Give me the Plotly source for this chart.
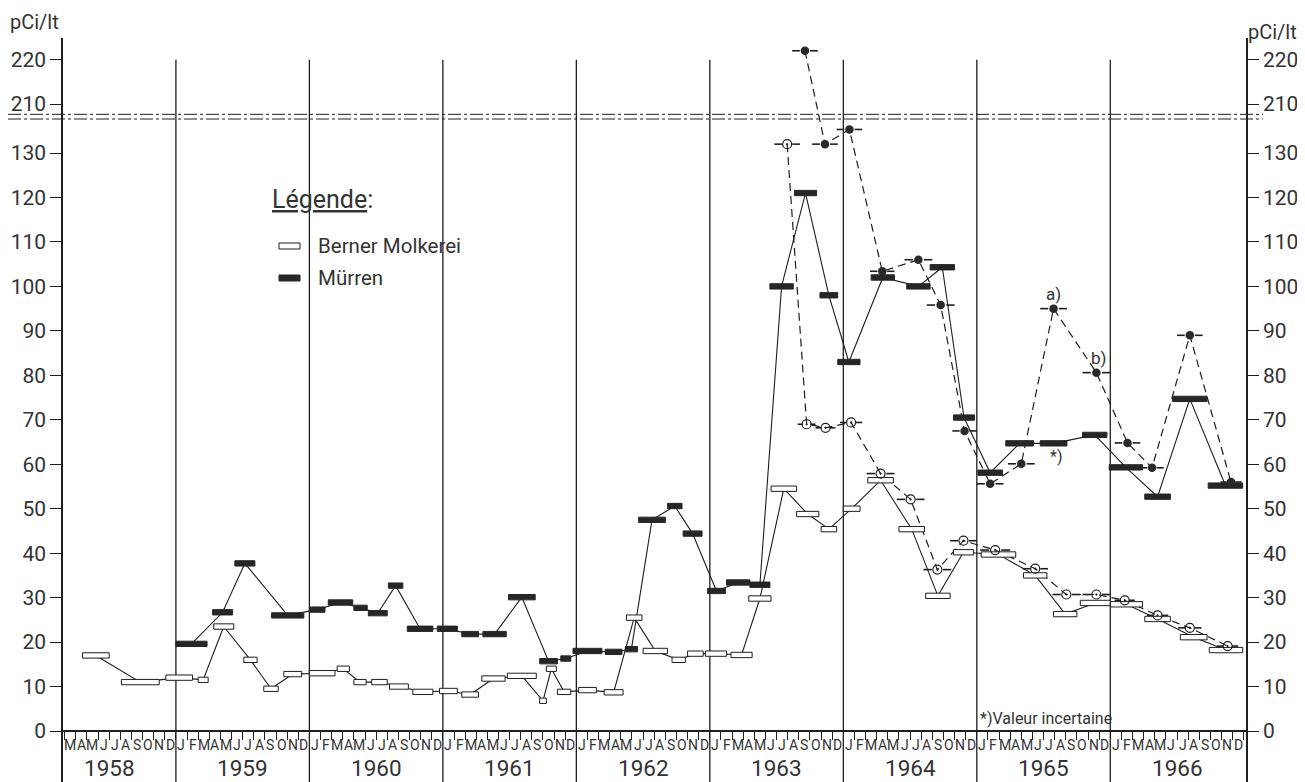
import plotly.graph_objects as go

# ---------------- data (month index: Jan 1958 = 0) ----------------
berner_start = [3.6, 7.1, 11.1, 14.0, 15.4, 18.1, 19.9, 21.7, 24.0, 26.5, 28.0, 29.6, 31.2, 33.3, 35.7,
                37.7, 39.5, 41.8, 44.7, 45.3, 46.3, 48.2, 50.5, 52.5, 54.0, 56.6, 58.0, 59.6, 61.9, 63.5,
                65.5, 67.8, 70.0, 72.0, 74.2, 77.0, 79.4, 81.9, 84.4, 88.2, 90.9, 93.3, 96.0, 99.1, 102.3, 104.9]
berner_end = [6.0, 10.5, 13.5, 14.9, 17.2, 19.3, 21.2, 23.3, 26.3, 27.6, 29.1, 31.0, 32.9, 35.1, 37.3,
              39.2, 41.6, 44.4, 45.3, 46.2, 47.5, 49.8, 52.2, 53.9, 56.2, 57.8, 59.4, 61.5, 63.8, 65.5,
              67.8, 69.8, 71.4, 73.5, 76.5, 79.3, 81.6, 83.7, 87.5, 90.3, 93.0, 96.0, 98.9, 101.4, 104.7, 107.9]
berner_val = [17, 11, 12, 11.5, 23.5, 16, 9.5, 12.8, 13, 14, 11, 11, 10, 8.8, 9,
              8.2, 11.8, 12.4, 6.8, 14, 8.8, 9.2, 8.7, 25.5, 18, 16, 17.4, 17.4, 17.1, 29.8,
              54.5, 48.8, 45.4, 50, 56.4, 45.4, 30.4, 40.2, 39.7, 35, 26.3, 28.8, 28.5, 25.2, 21.1, 18.2]

murren_start = [12.0, 15.3, 17.3, 20.6, 24.0, 25.7, 28.0, 29.3, 31.1, 32.8, 35.5, 37.7, 39.6, 41.9, 44.7,
                46.6, 47.7, 50.6, 52.4, 53.6, 56.2, 57.6, 59.8, 61.5, 63.6, 65.4, 67.6, 69.9, 71.5, 74.5,
                77.7, 79.8, 81.9, 84.1, 86.6, 89.7, 93.5, 95.9, 99.1, 101.6, 104.8]
murren_end = [14.8, 17.1, 19.1, 23.5, 25.4, 27.9, 29.2, 31.0, 32.4, 35.1, 37.3, 39.2, 41.7, 44.3, 46.3,
              47.5, 50.3, 52.1, 53.5, 56.0, 57.5, 59.3, 61.4, 63.6, 65.4, 67.5, 69.6, 71.5, 73.5, 76.6,
              79.8, 82.0, 83.8, 86.3, 89.1, 92.1, 95.7, 98.9, 101.4, 104.7, 107.9]
murren_val = [19.6, 26.7, 37.7, 26, 27.3, 28.9, 27.7, 26.5, 32.7, 23, 23, 21.8, 21.8, 30.1, 15.7,
              16.3, 18, 17.8, 18.4, 47.5, 50.6, 44.4, 31.5, 33.4, 32.9, 100, 121, 98, 83, 102,
              100, 104.3, 70.5, 58.1, 64.7, 64.7, 66.6, 59.3, 52.7, 74.7, 55.2]

# dashed series with open dotted circles
circ_start = [65.8, 67.9, 69.5, 71.7, 74.1, 76.8, 79.2, 81.6, 84.3, 88.1, 90.8, 93.5, 96.4, 99.3, 102.1, 105.6]
circ_end = [68.1, 69.5, 71.3, 73.7, 76.6, 79.3, 81.7, 84.0, 87.0, 90.4, 93.3, 96.0, 98.2, 101.2, 104.2, 107.5]
circ_val = [132, 69, 68.2, 69.4, 57.9, 52.1, 36.3, 42.8, 40.7, 36.5, 30.7, 30.7, 29.4, 26, 23.2, 19.1]

# dashed series with filled dots
dot_start = [67.4, 69.2, 71.4, 74.4, 77.5, 79.5, 81.8, 84.0, 86.8, 89.7, 93.5, 96.4, 98.7, 102.0, 105.9]
dot_end = [69.7, 71.5, 73.7, 76.6, 80.0, 82.0, 84.0, 86.4, 89.2, 92.1, 96.0, 98.7, 100.8, 104.3, 107.8]
dot_val = [222, 132, 135.3, 103.4, 106, 95.8, 67.5, 55.6, 60.1, 95, 80.6, 64.8, 59.2, 89, 56]

years = [1958, 1959, 1960, 1961, 1962, 1963, 1964, 1965, 1966]
month_letters = ["J", "F", "M", "A", "M", "J", "J", "A", "S", "O", "N", "D"]
first_month = 2            # March 1958
last_month = 108           # end of Dec 1966
lower_ticks = [0, 10, 20, 30, 40, 50, 60, 70, 80, 90, 100, 110, 120, 130]
upper_ticks = [210, 220]

# ---------------- geometry / style ----------------
OFF = 8                  # page body margin of the html page
W, H = 1305 - OFF, 782 - OFF
ML, MR, MT, MB = 63 - OFF, 59, 38 - OFF, 0
X_RANGE = [1.85, 108.2]
Y_RANGE = [-11.47, 155.87]
BREAK_SHIFT = 69        # values above the scale break are drawn this much lower
BREAK_AT = 175
BREAK_LINES = [138.7, 137.65]
INK = "#1e1e1e"
FONT = "Roboto, 'DejaVu Sans', sans-serif"
BAR_HALF = 0.6


def ymap(v):
    return v - BREAK_SHIFT if v > BREAK_AT else v


def px_x(p):  # picture pixel -> paper
    return (p - OFF - ML) / (W - ML - MR)


def px_y(p):
    return (H - MB - (p - OFF)) / (H - MT - MB)


def mids(s, e):
    return [(a + b) / 2 for a, b in zip(s, e)]


def bar_polys(s, e, v):
    xs, ys = [], []
    for a, b, val in zip(s, e, v):
        y = ymap(val)
        xs += [a, b, b, a, a, None]
        ys += [y - BAR_HALF, y - BAR_HALF, y + BAR_HALF, y + BAR_HALF, y - BAR_HALF, None]
    return xs, ys


def side_dashes(s, e, v, frac=0.3):
    xs, ys = [], []
    for a, b, val in zip(s, e, v):
        y = ymap(val)
        d = (b - a) * frac
        xs += [a, a + d, None, b - d, b, None]
        ys += [y, y, None, y, y, None]
    return xs, ys


fig = go.Figure()

# solid connecting lines
for s, e, v in [(berner_start, berner_end, berner_val), (murren_start, murren_end, murren_val)]:
    fig.add_trace(go.Scatter(x=mids(s, e), y=[ymap(t) for t in v], mode="lines",
                             line=dict(color=INK, width=1.1), hoverinfo="skip", showlegend=False))

# dashed connecting lines
for s, e, v in [(circ_start, circ_end, circ_val), (dot_start, dot_end, dot_val)]:
    fig.add_trace(go.Scatter(x=mids(s, e), y=[ymap(t) for t in v], mode="lines",
                             line=dict(color=INK, width=1.2, dash="8px,5px"),
                             hoverinfo="skip", showlegend=False))
    dx, dy = side_dashes(s, e, v)
    fig.add_trace(go.Scatter(x=dx, y=dy, mode="lines", line=dict(color=INK, width=1.6),
                             hoverinfo="skip", showlegend=False))

# bars
bx, by = bar_polys(berner_start, berner_end, berner_val)
fig.add_trace(go.Scatter(x=bx, y=by, mode="lines", fill="toself", fillcolor="white",
                         line=dict(color=INK, width=1), hoverinfo="skip", showlegend=False))
mx, my = bar_polys(murren_start, murren_end, murren_val)
fig.add_trace(go.Scatter(x=mx, y=my, mode="lines", fill="toself", fillcolor="#262626",
                         line=dict(color="#262626", width=1), hoverinfo="skip", showlegend=False))

# markers
fig.add_trace(go.Scatter(x=mids(circ_start, circ_end), y=[ymap(t) for t in circ_val], mode="markers",
                         marker=dict(symbol="circle-open-dot", size=9, color=INK, line=dict(width=1.2, color=INK)),
                         hoverinfo="skip", showlegend=False))
fig.add_trace(go.Scatter(x=mids(dot_start, dot_end), y=[ymap(t) for t in dot_val], mode="markers",
                         marker=dict(symbol="circle", size=8.5, color="#2a2a2a"),
                         hoverinfo="skip", showlegend=False))
# dummy trace for right axis
fig.add_trace(go.Scatter(x=[X_RANGE[0]], y=[0], yaxis="y2", mode="markers",
                         marker=dict(opacity=0), hoverinfo="skip", showlegend=False))

tickvals = [ymap(t) for t in lower_ticks + upper_ticks]
ticktext = [str(t) for t in lower_ticks + upper_ticks]
yax = dict(range=Y_RANGE, tickvals=tickvals, ticktext=ticktext, ticks="outside", ticklen=11,
           tickwidth=1.3, tickcolor=INK, showline=True, linecolor=INK, linewidth=1.5,
           showgrid=False, tickfont=dict(family=FONT, size=21, color="#333"), fixedrange=True)

shapes = []
# year separators
for yr in years[1:]:
    m = (yr - years[0]) * 12
    shapes.append(dict(type="line", xref="x", yref="y", x0=m, x1=m, y0=Y_RANGE[0], y1=ymap(220),
                       line=dict(color=INK, width=1.3), layer="below"))
# scale-break lines
for yb in BREAK_LINES:
    shapes.append(dict(type="line", xref="paper", yref="y", x0=px_x(OFF), x1=px_x(1263), y0=yb, y1=yb,
                       line=dict(color=INK, width=1, dash="13px,3px,3px,3px"), layer="below"))
# legend box & symbols
shapes.append(dict(type="rect", xref="paper", yref="paper", x0=px_x(266), x1=px_x(478),
                   y0=px_y(296), y1=px_y(182), fillcolor="white", line=dict(width=0), layer="below"))
shapes.append(dict(type="rect", xref="paper", yref="paper", x0=px_x(279), x1=px_x(300),
                   y0=px_y(249), y1=px_y(243), fillcolor="white", line=dict(color=INK, width=1)))
shapes.append(dict(type="rect", xref="paper", yref="paper", x0=px_x(279), x1=px_x(300),
                   y0=px_y(281), y1=px_y(275), fillcolor="#262626", line=dict(color="#262626", width=1)))

ann = []
txt = dict(family=FONT, color="#333")
ann.append(dict(xref="paper", yref="paper", x=px_x(8), y=px_y(22), text="pCi/lt", showarrow=False,
                xanchor="left", yanchor="middle", font=dict(size=20, **txt)))
ann.append(dict(xref="paper", yref="paper", x=px_x(1246), y=px_y(32), text="pCi/lt", showarrow=False,
                xanchor="left", yanchor="middle", font=dict(size=20, **txt)))
ann.append(dict(xref="paper", yref="paper", x=px_x(270), y=px_y(199), text="<u>Légende</u>:", showarrow=False,
                xanchor="left", yanchor="middle", font=dict(size=25, **txt)))
ann.append(dict(xref="paper", yref="paper", x=px_x(316), y=px_y(246), text="Berner Molkerei", showarrow=False,
                xanchor="left", yanchor="middle", font=dict(size=20.5, **txt)))
ann.append(dict(xref="paper", yref="paper", x=px_x(316), y=px_y(278), text="Mürren", showarrow=False,
                xanchor="left", yanchor="middle", font=dict(size=20.5, **txt)))

# month letters and years
for yr in years:
    base = (yr - years[0]) * 12
    for i, letter in enumerate(month_letters):
        m = base + i
        if m < first_month or m >= last_month:
            continue
        ann.append(dict(xref="x", yref="y", x=m + 0.5, y=-3.15, text=letter, showarrow=False,
                        xanchor="center", yanchor="middle", borderpad=0, font=dict(size=14, **txt)))
    ann.append(dict(xref="x", yref="y", x=base + 6, y=-8.32, text=str(yr), showarrow=False,
                    xanchor="center", yanchor="middle", borderpad=0, font=dict(size=22.5, **txt)))

# notes
ann.append(dict(xref="x", yref="y", x=(years.index(1965)) * 12, y=0, text="*)Valeur incertaine",
                showarrow=False, xanchor="left", yanchor="bottom", xshift=1, yshift=1,
                font=dict(size=16, **txt)))
dm = mids(dot_start, dot_end)
ann.append(dict(xref="x", yref="y", x=dm[9], y=ymap(dot_val[9]), text="a)", showarrow=False,
                yshift=15, font=dict(size=17, **txt)))
ann.append(dict(xref="x", yref="y", x=dm[10], y=ymap(dot_val[10]), text="b)", showarrow=False,
                yshift=15, xshift=2, font=dict(size=17, **txt)))
mm = mids(murren_start, murren_end)
ann.append(dict(xref="x", yref="y", x=mm[35], y=ymap(murren_val[35]), text="*)", showarrow=False,
                yshift=-13, xshift=2, font=dict(size=16, **txt)))

fig.update_layout(
    width=W, height=H, margin=dict(l=ML, r=MR, t=MT, b=MB, pad=0),
    paper_bgcolor="white", plot_bgcolor="white", showlegend=False,
    xaxis=dict(range=X_RANGE, anchor="free",
               position=(0 - Y_RANGE[0]) / (Y_RANGE[1] - Y_RANGE[0]),
               tickvals=list(range(first_month, last_month + 1)), ticks="outside", ticklen=8,
               tickwidth=1, tickcolor=INK, showticklabels=False, showgrid=False, zeroline=False,
               showline=False, fixedrange=True),
    yaxis=dict(**yax, zeroline=True, zerolinecolor=INK, zerolinewidth=1.5),
    yaxis2=dict(**yax, overlaying="y", side="right", zeroline=False),
    shapes=shapes, annotations=ann,
)

fig.write_html("out.html")
